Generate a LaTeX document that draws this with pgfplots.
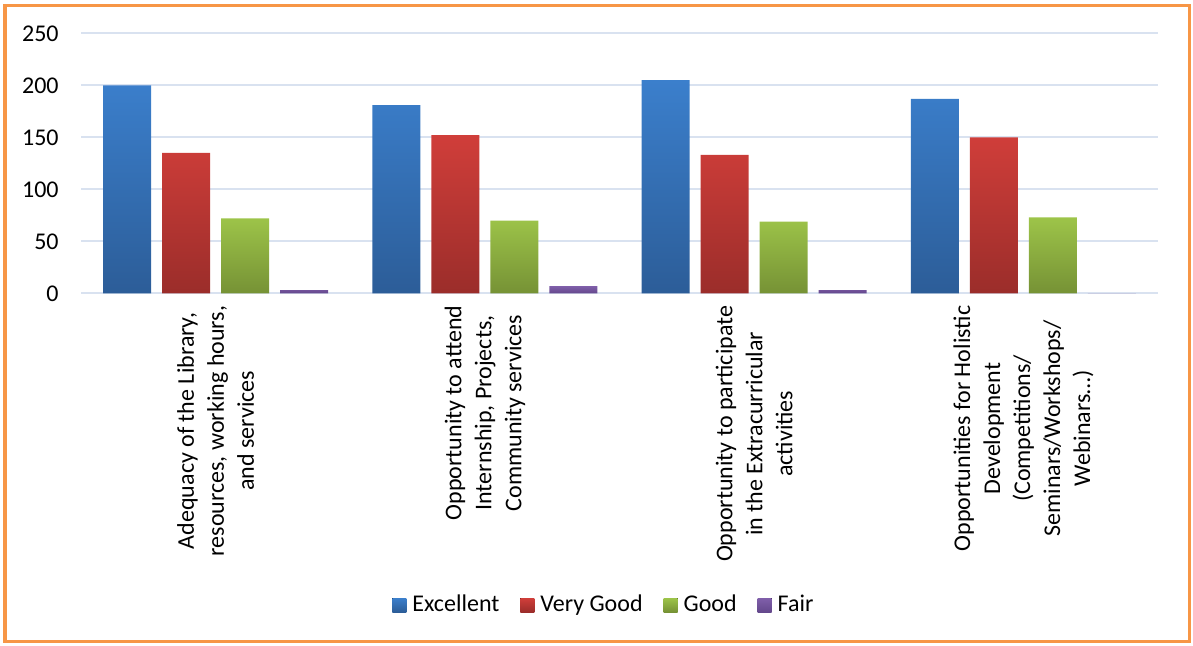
\documentclass[border=0pt]{standalone}
\usepackage{fontspec}
\setmainfont{Carlito}
\usepackage{pgfplots}
\pgfplotsset{compat=1.18}

\definecolor{frameorange}{RGB}{247,150,70}
\definecolor{gridblue}{RGB}{217,226,240}
\definecolor{exctop}{RGB}{59,127,204}
\definecolor{excbot}{RGB}{44,93,152}
\definecolor{vgtop}{RGB}{208,62,58}
\definecolor{vgbot}{RGB}{155,45,42}
\definecolor{gdtop}{RGB}{157,196,73}
\definecolor{gdbot}{RGB}{118,146,53}
\definecolor{frtop}{RGB}{128,95,170}
\definecolor{frbot}{RGB}{100,72,140}

\newcommand{\chartfont}{\fontsize{12}{15}\selectfont}

\pgfplotsset{
  shadedbar/.style n args={2}{
    draw=none, top color=#1, bottom color=#2,
    legend image code/.code={\fill[draw=none, top color=#1, bottom color=#2] (0pt,-3.5pt) rectangle (7pt,3.5pt);}
  }
}

\begin{document}
\begin{tikzpicture}
\useasboundingbox (0pt,0pt) rectangle (596.5pt,322.5pt);
\draw[frameorange, line width=1.6pt] (2.5pt,1.75pt) rectangle (594.75pt,319.75pt);

\begin{axis}[
  at={(40.5pt,175.85pt)}, anchor=south west,
  scale only axis, width=538.5pt, height=130pt,
  xmin=-0.5, xmax=3.5, ymin=0, ymax=250,
  ytick={0,50,100,150,200,250},
  xtick={0,1,2,3},
  xticklabels={
    {Adequacy of the Library,\\ resources, working hours,\\ and services},
    {Opportunity to attend\\ Internship, Projects,\\ Community services},
    {Opportunity to participate\\ in the Extracurricular\\ activities},
    {Opportunities for Holistic\\ Development\\ (Competitions/\\ Seminars/Workshops/\\ Webinars…)}
  },
  xticklabel style={rotate=90, anchor=east, align=center, inner sep=0pt, font=\chartfont},
  xticklabel shift=6pt,
  yticklabel style={inner sep=0pt, font=\chartfont},
  yticklabel shift=11pt,
  /pgf/number format/assume math mode=true,
  axis line style={draw=none},
  major tick length=0pt,
  tick style={draw=none},
  ymajorgrids, grid style={gridblue, line width=0.9pt},
  ybar=5.5pt, bar width=24pt,
  clip=false,
  legend columns=-1,
  legend style={at={(0.486,-1.199)}, anchor=center, draw=none, fill=none,
    font=\chartfont, nodes={inner sep=1.5pt},
    /tikz/every odd column/.append style={column sep=1.5pt},
    /tikz/every even column/.append style={column sep=9pt}},
]
\addplot[shadedbar={exctop}{excbot}] coordinates {(0,200) (1,181) (2,205) (3,187)};
\addplot[shadedbar={vgtop}{vgbot}] coordinates {(0,135) (1,152) (2,133) (3,150)};
\addplot[shadedbar={gdtop}{gdbot}] coordinates {(0,72) (1,70) (2,69) (3,73)};
\addplot[shadedbar={frtop}{frbot}] coordinates {(0,3) (1,7) (2,3) (3,0)};
\legend{Excellent, Very Good, Good, Fair}
\end{axis}
\end{tikzpicture}
\end{document}
